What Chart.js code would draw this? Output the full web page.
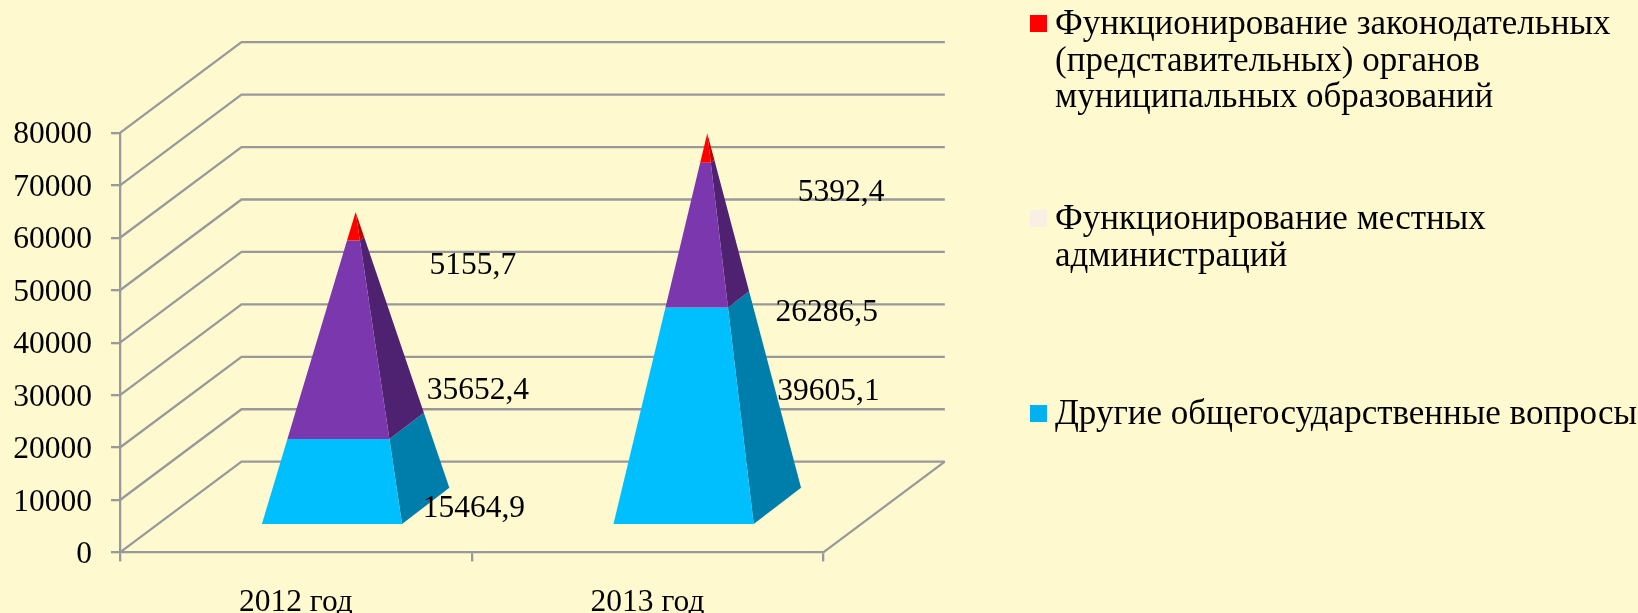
<!DOCTYPE html>
<html><head><meta charset="utf-8">
<style>html,body{margin:0;padding:0;background:#FFF9D0}canvas{display:block}</style>
<script src="https://cdn.jsdelivr.net/npm/chart.js@4"></script>
</head><body><canvas id="c" width="1638" height="613"></canvas>
<script>
const categories = ['2012 год', '2013 год'];
const otherValues = [15464.9, 39605.1];
const localValues = [35652.4, 26286.5];
const legislativeValues = [5155.7, 5392.4];
const seriesNames = ['Другие общегосударственные вопросы', 'Функционирование местных администраций', 'Функционирование законодательных (представительных) органов муниципальных образований'];
const legendLines = [['Другие общегосударственные вопросы'], ['Функционирование местных', 'администраций'], ['Функционирование законодательных', '(представительных) органов', 'муниципальных образований']];
const valueLabels = [['15464,9', '39605,1'], ['35652,4', '26286,5'], ['5155,7', '5392,4']];
const yTicks = {min: 0, max: 80000, step: 10000};

const FONT = '"Liberation Serif", serif';
const FONT_SIZE = 31.5;
const LEGEND_SIZE = 35;
const GRID = '#999999';
const DEPTH = {x: 121.5, y: -90.7};
const BASE_DEPTH = {x: 47.5, y: -36.3};
const PYRAMID_SHIFT = {x: 59.8, y: -45.4};
const faceColors = ['#00BFFF', '#7B38AE', '#FF0000'];
const sideColors = ['#007EAB', '#4E2270', '#BF0000'];
const legendSwatch = ['#00B0F0', '#FBEEE4', '#FF0000'];
const legendY = [405, 210, 15];
const labelOffsets = [[[178, -3], [181, -56.4]], [[182, 13], [179.3, 37.2]], [[177, -4.8], [193.6, -0.5]]];

const pyramid3d = {
  id: 'pyramid3d',
  beforeDatasetsDraw(chart) {
    const {ctx, chartArea: a, scales: {y}} = chart;
    ctx.save();
    ctx.strokeStyle = GRID; ctx.lineWidth = 2.3;
    y.ticks.forEach(t => {
      const py = y.getPixelForValue(t.value);
      ctx.beginPath();
      ctx.moveTo(a.left, py);
      ctx.lineTo(a.left + DEPTH.x, py + DEPTH.y);
      ctx.lineTo(a.right + DEPTH.x, py + DEPTH.y);
      ctx.stroke();
    });
    const y0 = y.getPixelForValue(0);
    ctx.beginPath();
    ctx.moveTo(a.right, y0);
    ctx.lineTo(a.right + DEPTH.x, y0 + DEPTH.y);
    ctx.stroke();
    ctx.restore();
  },
  afterDatasetsDraw(chart) {
    const {ctx, scales: {y}} = chart;
    const y0 = y.getPixelForValue(0);
    const n = chart.data.datasets.length;
    ctx.save();
    chart.data.labels.forEach((_, i) => {
      const top = chart.getDatasetMeta(n - 1).data[i];
      const height = y0 - top.y;
      const cx = top.x + PYRAMID_SHIFT.x;
      const cy = y0 + PYRAMID_SHIFT.y;
      const hw = top.width / 2;
      const apex = {x: cx, y: cy - height};
      const FL = {x: cx - hw - BASE_DEPTH.x / 2, y: cy - BASE_DEPTH.y / 2};
      const FR = {x: cx + hw - BASE_DEPTH.x / 2, y: cy - BASE_DEPTH.y / 2};
      const BR = {x: cx + hw + BASE_DEPTH.x / 2, y: cy + BASE_DEPTH.y / 2};
      const at = (p, t) => ({x: p.x + (apex.x - p.x) * t, y: p.y + (apex.y - p.y) * t});
      const quad = (a, b, t0, t1, color) => {
        const pts = [at(a, t0), at(b, t0), at(b, t1), at(a, t1)];
        ctx.fillStyle = color;
        ctx.beginPath();
        pts.forEach((p, k) => k ? ctx.lineTo(p.x, p.y) : ctx.moveTo(p.x, p.y));
        ctx.closePath();
        ctx.fill();
      };
      for (let d = 0; d < n; d++) {
        const el = chart.getDatasetMeta(d).data[i];
        const t0 = (y0 - el.base) / height;
        const t1 = (y0 - el.y) / height;
        quad(FR, BR, t0, t1, sideColors[d]);
        quad(FL, FR, t0, t1, faceColors[d]);
      }
    });
    ctx.fillStyle = '#000';
    ctx.font = FONT_SIZE + 'px ' + FONT;
    ctx.textAlign = 'center'; ctx.textBaseline = 'middle';
    chart.data.datasets.forEach((ds, d) => {
      chart.getDatasetMeta(d).data.forEach((el, i) => {
        const [ox, oy] = labelOffsets[d][i];
        ctx.fillText(valueLabels[d][i], el.x + ox, (el.y + el.base) / 2 + oy);
      });
    });
    // legend
    ctx.textAlign = 'left';
    ctx.font = LEGEND_SIZE + 'px ' + FONT;
    legendLines.forEach((lines, d) => {
      ctx.fillStyle = legendSwatch[d];
      ctx.fillRect(1030, legendY[d], 17, 17);
      ctx.fillStyle = '#000';
      lines.forEach((ln, k) => ctx.fillText(ln, 1055, legendY[d] + 10 + k * 36.6));
    });
    ctx.restore();
  }
};

const transparent = 'rgba(0,0,0,0)';
const dataRows = [otherValues, localValues, legislativeValues];
new Chart(document.getElementById('c'), {
  type: 'bar',
  data: {
    labels: categories,
    datasets: dataRows.map((vals, d) => ({
      label: seriesNames[d], data: vals, backgroundColor: transparent, borderWidth: 0,
      categoryPercentage: 1, barPercentage: 0.4
    }))
  },
  options: {
    responsive: false, animation: false,
    layout: {padding: {top: 132.9, right: 814.7, left: 0, bottom: 0}},
    plugins: {legend: {display: false}, tooltip: {enabled: false}},
    scales: {
      x: {
        stacked: true,
        afterFit(s) { s.height = 60.6; },
        grid: {drawOnChartArea: false, color: GRID, lineWidth: 2.3, tickLength: 9},
        border: {color: GRID, width: 2.3},
        ticks: {color: '#000', font: {family: FONT, size: FONT_SIZE}, padding: 22, maxRotation: 0, autoSkip: false}
      },
      y: {
        stacked: true, min: yTicks.min, max: yTicks.max,
        afterFit(s) { s.width = 120; },
        grid: {drawOnChartArea: false, color: GRID, lineWidth: 2.3, tickLength: 9},
        border: {color: GRID, width: 2.3},
        ticks: {stepSize: yTicks.step, color: '#000', font: {family: FONT, size: FONT_SIZE}, padding: 19, labelOffset: 2.3,
          callback: v => String(v)}
      }
    }
  },
  plugins: [pyramid3d]
});
</script></body></html>
